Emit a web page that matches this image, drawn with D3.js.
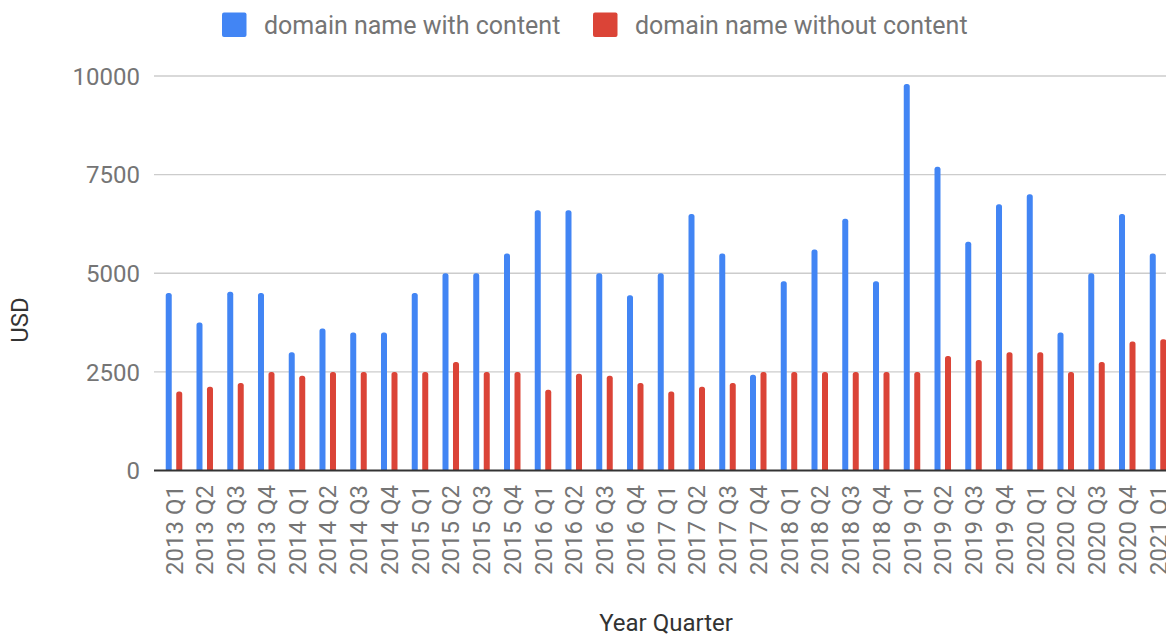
<!DOCTYPE html>
<html lang="en">
  <head>
    <meta charset="UTF-8" />
    <title>domain prices</title>
    <style>
      body {
        margin: 0;
        background: #fff;
      }
      svg {
        display: block;
        font-family: Roboto, "Noto Sans", sans-serif;
      }
      .tick-label {
        fill: #757575;
        font-size: 24px;
      }
      .legend text {
        fill: #757575;
        font-size: 25px;
      }
      .title {
        fill: #333;
        font-size: 24px;
      }
    </style>
    <script src="https://cdn.jsdelivr.net/npm/d3@7"></script>
  </head>
  <body>
    <div class="container"></div>
    <script>
      const quarters = [
        "2013 Q1", "2013 Q2", "2013 Q3", "2013 Q4",
        "2014 Q1", "2014 Q2", "2014 Q3", "2014 Q4",
        "2015 Q1", "2015 Q2", "2015 Q3", "2015 Q4",
        "2016 Q1", "2016 Q2", "2016 Q3", "2016 Q4",
        "2017 Q1", "2017 Q2", "2017 Q3", "2017 Q4",
        "2018 Q1", "2018 Q2", "2018 Q3", "2018 Q4",
        "2019 Q1", "2019 Q2", "2019 Q3", "2019 Q4",
        "2020 Q1", "2020 Q2", "2020 Q3", "2020 Q4",
        "2021 Q1"
      ];
      const withContent = [
        4500, 3750, 4530, 4500,
        3000, 3600, 3500, 3500,
        4500, 5000, 5000, 5500,
        6600, 6600, 5000, 4440,
        5000, 6500, 5500, 2430,
        4800, 5600, 6380, 4800,
        9800, 7700, 5800, 6750,
        7000, 3500, 5000, 6500,
        5500
      ];
      const withoutContent = [
        2000, 2120, 2220, 2500,
        2400, 2500, 2500, 2500,
        2500, 2750, 2500, 2500,
        2050, 2450, 2400, 2220,
        2000, 2120, 2220, 2500,
        2500, 2500, 2500, 2500,
        2500, 2900, 2800, 3000,
        3000, 2500, 2750, 3270,
        3330
      ];
      const seriesNames = ["domain name with content", "domain name without content"];
      const seriesColors = ["#4285f4", "#db4437"];
      const yTicks = [0, 2500, 5000, 7500, 10000];

      function init() {
        const width = 1166,
          height = 637;
        const left = 154,
          right = 1178,
          top = 76,
          bottom = 470.5;

        const svg = d3
          .select(".container")
          .append("svg")
          .attr("width", width)
          .attr("height", height);

        const x = d3.scaleBand().domain(quarters).range([left, right]).paddingOuter(0.15).paddingInner(0);
        const x1 = d3.scaleBand().domain([0, 1]).range([-8.25, 8.25]).paddingInner(0.4286);
        const y = d3.scaleLinear().domain([0, 10000]).range([bottom, top]);

        // gridlines + y labels
        const yAxis = svg
          .append("g")
          .selectAll(".ytick")
          .data(yTicks)
          .enter()
          .append("g")
          .attr("class", "ytick");

        yAxis
          .filter((d) => d !== 0)
          .append("line")
          .attr("x1", left)
          .attr("x2", right)
          .attr("y1", (d) => y(d))
          .attr("y2", (d) => y(d))
          .attr("stroke", "#cccccc")
          .attr("stroke-width", 1.4);

        yAxis
          .append("text")
          .attr("class", "tick-label")
          .attr("x", 140)
          .attr("y", (d) => y(d))
          .attr("dy", "0.36em")
          .attr("text-anchor", "end")
          .text((d) => d);

        // bars with rounded tops
        const bw = x1.bandwidth();
        const r = 2.5;
        function barPath(cx, v) {
          const x0 = cx - bw / 2,
            y0 = y(v),
            yb = y(0);
          return (
            "M" + x0 + "," + yb +
            "V" + (y0 + r) +
            "Q" + x0 + "," + y0 + " " + (x0 + r) + "," + y0 +
            "H" + (x0 + bw - r) +
            "Q" + (x0 + bw) + "," + y0 + " " + (x0 + bw) + "," + (y0 + r) +
            "V" + yb + "Z"
          );
        }

        const series = [withContent, withoutContent];
        series.forEach(function (vals, s) {
          svg
            .append("g")
            .selectAll("path")
            .data(quarters)
            .enter()
            .append("path")
            .attr("fill", seriesColors[s])
            .attr("d", function (q, i) {
              const cx = x(q) + x.bandwidth() / 2 + x1(s) + bw / 2;
              return barPath(cx, vals[i]);
            });
        });

        // baseline
        svg
          .append("line")
          .attr("x1", left)
          .attr("x2", right)
          .attr("y1", y(0))
          .attr("y2", y(0))
          .attr("stroke", "#333333")
          .attr("stroke-width", 1.8);

        // x labels
        svg
          .append("g")
          .selectAll("text")
          .data(quarters)
          .enter()
          .append("text")
          .attr("class", "tick-label")
          .attr("transform", function (d) {
            return "translate(" + (x(d) + x.bandwidth() / 2) + ",485) rotate(-90)";
          })
          .attr("dy", "0.36em")
          .attr("text-anchor", "end")
          .text((d) => d);

        // axis titles
        svg
          .append("text")
          .attr("class", "title")
          .attr("x", (left + right) / 2)
          .attr("y", 631)
          .attr("text-anchor", "middle")
          .text("Year Quarter");

        svg
          .append("text")
          .attr("class", "title")
          .attr("transform", "translate(19,320) rotate(-90)")
          .attr("dy", "0.36em")
          .attr("text-anchor", "middle")
          .text("USD");

        // legend
        const legendX = [222, 593];
        const legend = svg
          .append("g")
          .selectAll(".legend")
          .data(seriesNames)
          .enter()
          .append("g")
          .attr("class", "legend")
          .attr("transform", (d, i) => "translate(" + legendX[i] + ",0)");

        legend
          .append("rect")
          .attr("x", 0)
          .attr("y", 12.5)
          .attr("width", 24.5)
          .attr("height", 24.5)
          .attr("rx", 2)
          .attr("fill", (d, i) => seriesColors[i]);

        legend
          .append("text")
          .attr("x", 42)
          .attr("y", 25)
          .attr("dy", "0.36em")
          .text((d) => d);
      }
      init();
    </script>
  </body>
</html>
